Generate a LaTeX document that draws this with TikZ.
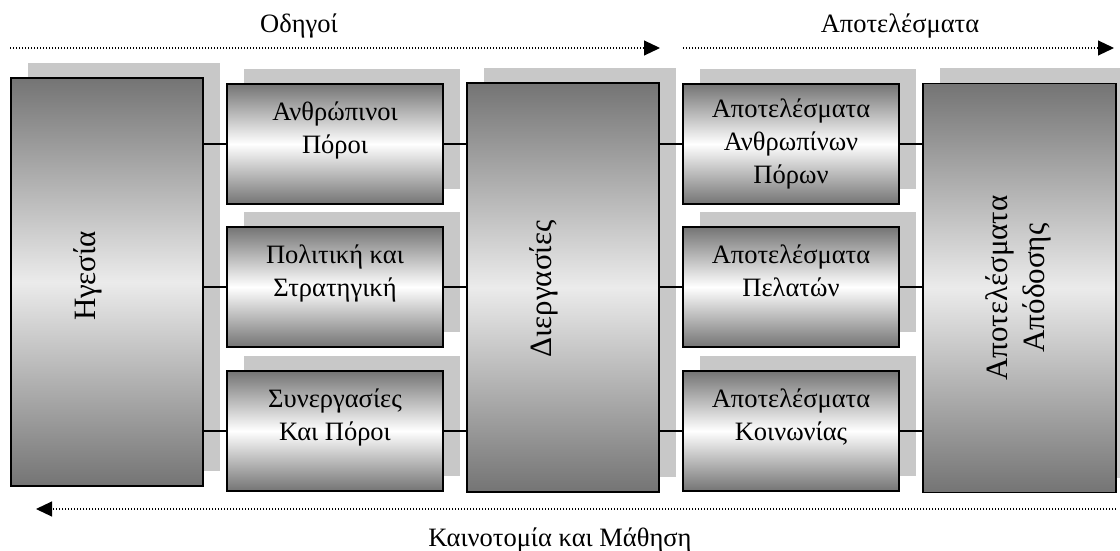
\documentclass[tikz,border=0pt]{standalone}
\usepackage{fontspec}
\setmainfont{Liberation Serif}
\usetikzlibrary{arrows.meta,shadows}

\definecolor{shadowgray}{HTML}{C8C8C8}
\definecolor{rimgray}{HTML}{747474}
\definecolor{bigmid}{HTML}{EBEBEB}

\tikzset{
  boxbase/.style={draw=black, line width=1.8pt, inner sep=0pt, outer sep=0pt,
    general shadow={fill=shadowgray, shadow xshift=17pt, shadow yshift=15pt}},
  bigbox/.style={boxbase, minimum width=192pt, minimum height=408pt,
    top color=rimgray, bottom color=rimgray, middle color=bigmid},
  smallbox/.style={boxbase, minimum width=216pt, minimum height=120pt,
    top color=rimgray, bottom color=rimgray, middle color=white,
    align=center, font=\fontsize{26.5}{33}\selectfont},
  vtext/.style={rotate=90, align=center, inner sep=0pt, font=\fontsize{31}{37}\selectfont},
  caption/.style={inner sep=0pt, font=\fontsize{26.5}{33}\selectfont},
  link/.style={line width=1.8pt},
  flow/.style={line width=1.1pt, dash pattern=on 1.1pt off 1.9pt,
    -{Triangle[length=16pt,width=15pt]}}
}

\begin{document}
\begin{tikzpicture}[x=1pt,y=-1pt]
\useasboundingbox (0,0) rectangle (1120,551);

% drivers: leadership, resources, processes
\node[bigbox] (lead) at (107,282) {};
\node[vtext] (leadtxt) at (88,276) {Ηγεσία};

\node[smallbox] (h1) at (335,144) {Ανθρώπινοι\\Πόροι\\\mbox{}};
\node[smallbox] (h2) at (335,287) {Πολιτική και\\Στρατηγική\\\mbox{}};
\node[smallbox] (h3) at (335,431) {Συνεργασίες\\Και Πόροι\\\mbox{}};

\node[bigbox, minimum height=409pt] (proc) at (563,287.5) {};
\node[vtext] (proctxt) at (544,289) {Διεργασίες};

% results
\node[smallbox] (r1) at (791,144) {Αποτελέσματα\\Ανθρωπίνων\\Πόρων};
\node[smallbox] (r2) at (791,287) {Αποτελέσματα\\Πελατών\\\mbox{}};
\node[smallbox] (r3) at (791,431) {Αποτελέσματα\\Κοινωνίας\\\mbox{}};

\node[bigbox, minimum width=193pt, minimum height=409pt] (perf) at (1019.5,288) {};
\node[vtext] (perftxt) at (1018,288) {Αποτελέσματα\\Απόδοσης};

% connectors
\foreach \b in {h1,h2,h3}{
  \draw[link] (\b.west -| lead.east) -- (\b.west);
  \draw[link] (\b.east) -- (\b.east -| proc.west);
}
\foreach \b in {r1,r2,r3}{
  \draw[link] (\b.west -| proc.east) -- (\b.west);
  \draw[link] (\b.east) -- (\b.east -| perf.west);
}

% flow arrows and their captions
\coordinate (d0) at (10,48);
\coordinate (d1) at (660,48);
\coordinate (o0) at (683,48);
\coordinate (o1) at (1114,48);
\coordinate (l0) at (1116,509);
\coordinate (l1) at (36,509);
\draw[flow] (d0) -- (d1);
\draw[flow] (o0) -- (o1);
\draw[flow] (l0) -- (l1);

\node[caption, anchor=base] (drv) at (299,33) {Οδηγοί};
\node[caption, anchor=base] (res) at (900,33) {Αποτελέσματα};
\node[caption, anchor=base] (inn) at (560,546) {Καινοτομία και Μάθηση};
\end{tikzpicture}
\end{document}
